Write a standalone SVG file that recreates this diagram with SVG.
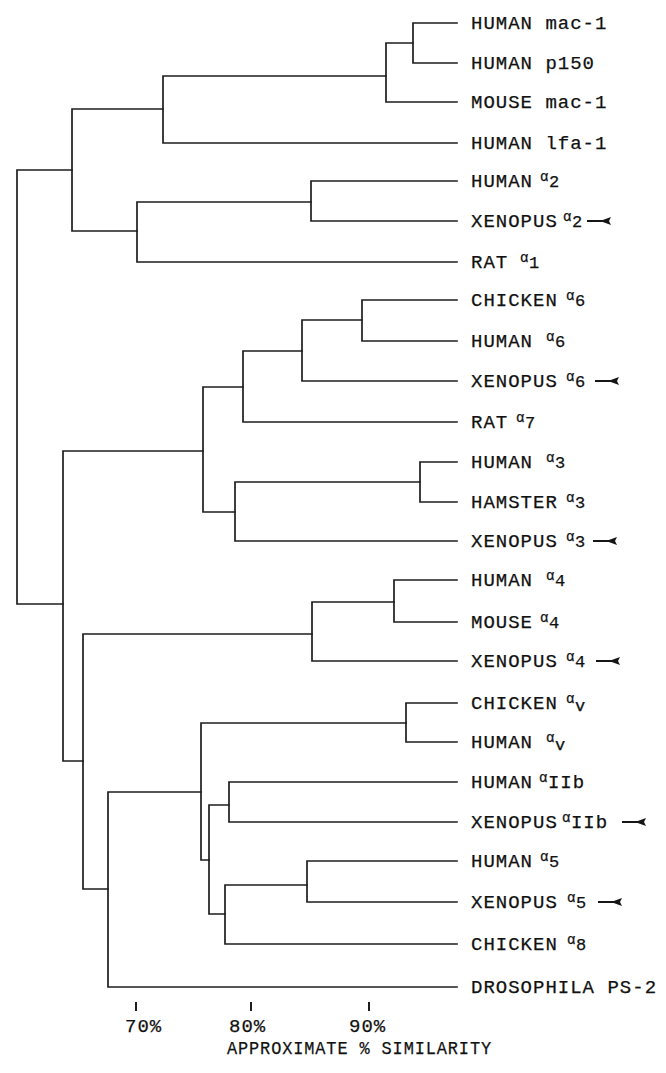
<svg xmlns="http://www.w3.org/2000/svg" width="666" height="1073" viewBox="0 0 666 1073">
<style>
.t{font-family:"Liberation Mono","DejaVu Sans Mono",monospace;font-size:19px;letter-spacing:1px;fill:#111;stroke:#111;stroke-width:0.25}
.a{font-size:14px;letter-spacing:0.5px}
.d{font-size:17px}
.e{fill:none;stroke:#1e1e1e;stroke-width:1.7;stroke-linecap:square}
.k{fill:none;stroke:#1e1e1e;stroke-width:2}
</style>
<defs>
<g id="arr"><path d="M0 0 H16" stroke="#161616" stroke-width="2" fill="none"/><path d="M13 0 L24 -4 L22 0 L24 4 Z" fill="#161616"/></g>
</defs>
<rect width="666" height="1073" fill="#fff"/>
<g id="connectors" class="e">
<path class="e" d="M17 170 V604 M17 170 H72 M17 604 H63"/>
<path class="e" d="M72 109 V231 M72 109 H163 M72 231 H137"/>
<path class="e" d="M163 76 V143 M163 76 H386 M163 143 H457"/>
<path class="e" d="M386 43 V102 M386 43 H413 M386 102 H457"/>
<path class="e" d="M413 23 V63 M413 23 H457 M413 63 H457"/>
<path class="e" d="M137 202 V262 M137 202 H311 M137 262 H457"/>
<path class="e" d="M311 181 V221 M311 181 H457 M311 221 H457"/>
<path class="e" d="M63 451 V761 M63 451 H203 M63 761 H83"/>
<path class="e" d="M203 387 V512 M203 387 H243 M203 512 H235"/>
<path class="e" d="M243 351 V422 M243 351 H302 M243 422 H457"/>
<path class="e" d="M302 320 V381 M302 320 H362 M302 381 H457"/>
<path class="e" d="M362 300 V341 M362 300 H457 M362 341 H457"/>
<path class="e" d="M235 482 V541 M235 482 H420 M235 541 H457"/>
<path class="e" d="M420 462 V502 M420 462 H457 M420 502 H457"/>
<path class="e" d="M83 634 V889 M83 634 H312 M83 889 H108"/>
<path class="e" d="M312 602 V661 M312 602 H394 M312 661 H457"/>
<path class="e" d="M394 580 V622 M394 580 H457 M394 622 H457"/>
<path class="e" d="M108 792 V987 M108 792 H201 M108 987 H457"/>
<path class="e" d="M201 723 V860 M201 723 H406 M201 860 H209"/>
<path class="e" d="M406 703 V742 M406 703 H457 M406 742 H457"/>
<path class="e" d="M209 805 V914 M209 805 H229 M209 914 H225"/>
<path class="e" d="M229 782 V822 M229 782 H457 M229 822 H457"/>
<path class="e" d="M225 885 V944 M225 885 H307 M225 944 H457"/>
<path class="e" d="M307 861 V902 M307 861 H457 M307 902 H457"/>
</g>
<g id="leaf-human-mac1"><text class="t" x="471" y="29">HUMAN mac-1</text></g>
<g id="leaf-human-p150"><text class="t" x="471" y="69">HUMAN p150</text></g>
<g id="leaf-mouse-mac1"><text class="t" x="471" y="108">MOUSE mac-1</text></g>
<g id="leaf-human-lfa1"><text class="t" x="471" y="149">HUMAN lfa-1</text></g>
<g id="leaf-human-a2"><text class="t" x="471" y="187">HUMAN<tspan class="a" x="540" dy="-6">α</tspan><tspan class="d" dy="6">2</tspan></text></g>
<g id="leaf-xenopus-a2"><text class="t" x="471" y="227">XENOPUS<tspan class="a" x="563" dy="-6">α</tspan><tspan class="d" dy="6">2</tspan></text><use href="#arr" x="587" y="221"/></g>
<g id="leaf-rat-a1"><text class="t" x="471" y="268">RAT<tspan class="a" x="520" dy="-6">α</tspan><tspan class="d" dy="6">1</tspan></text></g>
<g id="leaf-chicken-a6"><text class="t" x="471" y="306">CHICKEN<tspan class="a" x="566" dy="-6">α</tspan><tspan class="d" dy="6">6</tspan></text></g>
<g id="leaf-human-a6"><text class="t" x="471" y="347">HUMAN<tspan class="a" x="546" dy="-6">α</tspan><tspan class="d" dy="6">6</tspan></text></g>
<g id="leaf-xenopus-a6"><text class="t" x="471" y="387">XENOPUS<tspan class="a" x="566" dy="-6">α</tspan><tspan class="d" dy="6">6</tspan></text><use href="#arr" x="595" y="381"/></g>
<g id="leaf-rat-a7"><text class="t" x="471" y="428">RAT<tspan class="a" x="516" dy="-6">α</tspan><tspan class="d" dy="6">7</tspan></text></g>
<g id="leaf-human-a3"><text class="t" x="471" y="468">HUMAN<tspan class="a" x="546" dy="-6">α</tspan><tspan class="d" dy="6">3</tspan></text></g>
<g id="leaf-hamster-a3"><text class="t" x="471" y="508">HAMSTER<tspan class="a" x="566" dy="-6">α</tspan><tspan class="d" dy="6">3</tspan></text></g>
<g id="leaf-xenopus-a3"><text class="t" x="471" y="547">XENOPUS<tspan class="a" x="566" dy="-6">α</tspan><tspan class="d" dy="6">3</tspan></text><use href="#arr" x="593" y="541"/></g>
<g id="leaf-human-a4"><text class="t" x="471" y="586">HUMAN<tspan class="a" x="546" dy="-6">α</tspan><tspan class="d" dy="6">4</tspan></text></g>
<g id="leaf-mouse-a4"><text class="t" x="471" y="628">MOUSE<tspan class="a" x="540" dy="-6">α</tspan><tspan class="d" dy="6">4</tspan></text></g>
<g id="leaf-xenopus-a4"><text class="t" x="471" y="667">XENOPUS<tspan class="a" x="566" dy="-6">α</tspan><tspan class="d" dy="6">4</tspan></text><use href="#arr" x="596" y="661"/></g>
<g id="leaf-chicken-av"><text class="t" x="471" y="709">CHICKEN<tspan class="a" x="566" dy="-6">α</tspan><tspan class="d" dy="8">v</tspan></text></g>
<g id="leaf-human-av"><text class="t" x="471" y="748">HUMAN<tspan class="a" x="546" dy="-6">α</tspan><tspan class="d" dy="8">v</tspan></text></g>
<g id="leaf-human-aIIb"><text class="t" x="471" y="788">HUMAN<tspan class="a" x="539" dy="-6">α</tspan><tspan dy="6">IIb</tspan></text></g>
<g id="leaf-xenopus-aIIb"><text class="t" x="471" y="828">XENOPUS<tspan class="a" x="562" dy="-6">α</tspan><tspan dy="6">IIb</tspan></text><use href="#arr" x="622" y="822"/></g>
<g id="leaf-human-a5"><text class="t" x="471" y="867">HUMAN<tspan class="a" x="540" dy="-6">α</tspan><tspan class="d" dy="6">5</tspan></text></g>
<g id="leaf-xenopus-a5"><text class="t" x="471" y="908">XENOPUS<tspan class="a" x="567" dy="-6">α</tspan><tspan class="d" dy="6">5</tspan></text><use href="#arr" x="598" y="902"/></g>
<g id="leaf-chicken-a8"><text class="t" x="471" y="950">CHICKEN<tspan class="a" x="567" dy="-6">α</tspan><tspan class="d" dy="6">8</tspan></text></g>
<g id="leaf-drosophila"><text class="t" x="471" y="993">DROSOPHILA PS-2</text></g>
<g id="axis">
<path class="k" d="M136 1002 V1011 M251 1002 V1011 M369 1002 V1011"/>
<text class="t" x="125" y="1032">70%</text>
<text class="t" x="229" y="1032">80%</text>
<text class="t" x="349" y="1032">90%</text>
<text class="t" x="227" y="1054" textLength="265" lengthAdjust="spacingAndGlyphs">APPROXIMATE % SIMILARITY</text>
</g>
</svg>
